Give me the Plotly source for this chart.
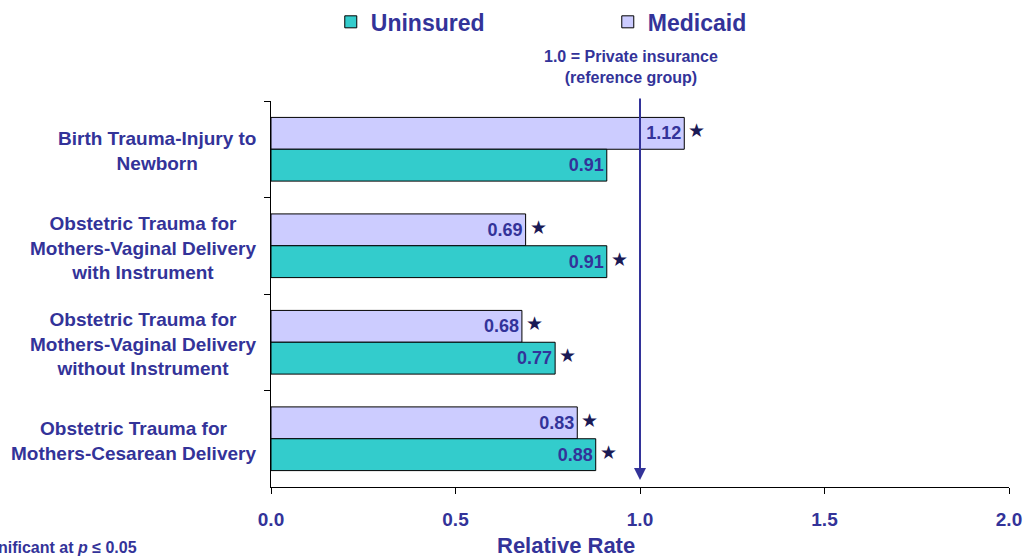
import plotly.graph_objects as go

categories = [
    "Birth Trauma-Injury to<br>Newborn",
    "Obstetric Trauma for<br>Mothers-Vaginal Delivery<br>with Instrument",
    "Obstetric Trauma for<br>Mothers-Vaginal Delivery<br>without Instrument",
    "Obstetric Trauma for<br>Mothers-Cesarean Delivery",
]
uninsured = [0.91, 0.91, 0.77, 0.88]
medicaid = [1.12, 0.69, 0.68, 0.83]
uninsured_sig = [False, True, True, True]
medicaid_sig = [True, True, True, True]
x_ticks = [0.0, 0.5, 1.0, 1.5, 2.0]
x_tick_labels = ["0.0", "0.5", "1.0", "1.5", "2.0"]

NAVY = "#333399"
FONT = "Liberation Sans, Arial, sans-serif"

fig = go.Figure()
fig.add_trace(go.Bar(
    name="Medicaid", y=categories, x=medicaid, orientation="h", legendrank=2,
    marker=dict(color="#CCCCFF", line=dict(color="black", width=1)),
    texttemplate="%{x:.2f}", textposition="inside", insidetextanchor="end",
    textfont=dict(color=NAVY, size=18, family=FONT, weight="bold"),
    constraintext="none", hoverinfo="skip",
))
fig.add_trace(go.Bar(
    name="Uninsured", y=categories, x=uninsured, orientation="h", legendrank=1,
    marker=dict(color="#33CCCC", line=dict(color="black", width=1)),
    texttemplate="%{x:.2f}", textposition="inside", insidetextanchor="end",
    textfont=dict(color=NAVY, size=18, family=FONT, weight="bold"),
    constraintext="none", hoverinfo="skip",
))

annotations = []
# category labels (centered multi-line)
for c in categories:
    annotations.append(dict(
        x=-0.017, xref="paper", y=c, yref="y", text=c, showarrow=False,
        xanchor="right", yanchor="middle", align="center", yshift=-2,
        font=dict(color=NAVY, size=19, family=FONT, weight="bold"),
    ))
# significance stars
for c, v, s in zip(categories, medicaid, medicaid_sig):
    if s:
        annotations.append(dict(x=v, y=c, xref="x", yref="y", text="★", showarrow=False,
                                xanchor="left", xshift=2, yshift=19,
                                font=dict(color="#1a1a55", size=19, family="DejaVu Sans")))
for c, v, s in zip(categories, uninsured, uninsured_sig):
    if s:
        annotations.append(dict(x=v, y=c, xref="x", yref="y", text="★", showarrow=False,
                                xanchor="left", xshift=2, yshift=-13,
                                font=dict(color="#1a1a55", size=19, family="DejaVu Sans")))
# reference line arrow
annotations.append(dict(
    x=1.0, xref="x", y=0.018, yref="paper", ax=0, ay=-383, axref="pixel", ayref="pixel",
    showarrow=True, arrowhead=2, arrowsize=1.2, arrowwidth=2, arrowcolor=NAVY, text="",
))
annotations.append(dict(
    x=0.976, xref="x", y=1.088, yref="paper", showarrow=False, yanchor="middle",
    text="1.0 = Private insurance<br>(reference group)", align="center",
    font=dict(color=NAVY, size=16, family=FONT, weight="bold"),
))
# axis title
annotations.append(dict(
    x=0.4, xref="paper", y=-0.152, yref="paper", showarrow=False, yanchor="middle",
    text="Relative Rate", font=dict(color=NAVY, size=22, family=FONT, weight="bold"),
))
# footnote
annotations.append(dict(
    x=-0.1789, xref="paper", y=-0.157, yref="paper", showarrow=False,
    xanchor="right", yanchor="middle",
    text="★ Statistically significant at <i>p</i> ≤ 0.05",
    font=dict(color=NAVY, size=16, family=FONT, weight="bold"),
))

fig.update_layout(
    width=1023, height=557,
    margin=dict(l=271, r=14, t=101, b=70, autoexpand=False),
    paper_bgcolor="white", plot_bgcolor="white",
    barmode="group", bargap=0.34, bargroupgap=0,
    showlegend=True, hovermode=False,
    legend=dict(orientation="h", x=0.081, xanchor="left", y=1.205, yanchor="middle",
                entrywidth=232,
                font=dict(color=NAVY, size=23, family=FONT, weight="bold")),
    annotations=annotations,
    xaxis=dict(range=[0, 2], tickvals=x_ticks, ticktext=x_tick_labels,
               showgrid=False, zeroline=False, showline=True, linecolor="black", linewidth=1,
               ticks="outside", ticklen=6, tickcolor="black", ticklabelstandoff=9,
               tickfont=dict(color=NAVY, size=19, family=FONT, weight="bold")),
    yaxis=dict(autorange="reversed", showticklabels=False, showgrid=False, zeroline=False,
               showline=True, linecolor="black", linewidth=1,
               ticks="outside", ticklen=6, tickcolor="black", tickson="boundaries"),
)

fig.write_html("out.html", config={"displayModeBar": False},
               post_script="document.body.style.margin='0';document.body.style.overflow='hidden';")
